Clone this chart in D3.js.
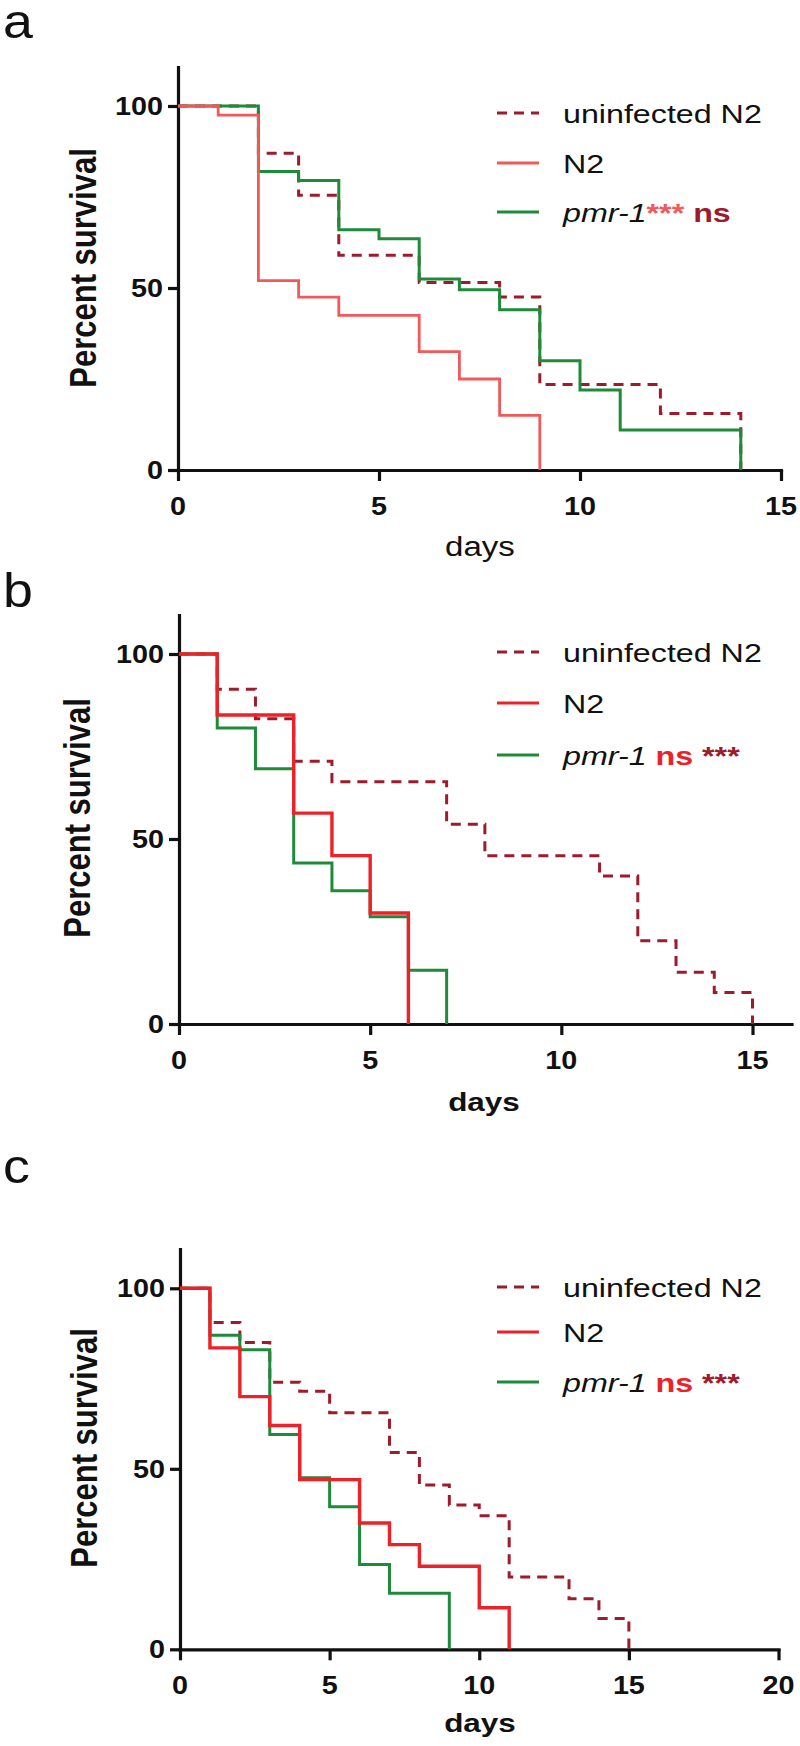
<!DOCTYPE html>
<html><head><meta charset="utf-8">
<script src="https://cdn.jsdelivr.net/npm/d3@7"></script>
<style>body{margin:0;background:#fff}svg{display:block}</style></head>
<body><svg id="chart" width="800" height="1746"></svg>
<script>
// ---------- DATA ----------
const panelLetters = ["a", "b", "c"];
const seriesNames = ["uninfected N2", "N2", "pmr-1"];
const yTicks = [0, 50, 100];
const xTicksA = [0, 5, 10, 15];
const xTicksB = [0, 5, 10, 15];
const xTicksC = [0, 5, 10, 15, 20];
const yLabel = "Percent survival";
const xLabel = "days";

// panel a
const aUninfectedDays = [0, 2, 3, 4, 6, 8, 9, 12, 14];
const aUninfectedSurv = [100, 87, 75.5, 59, 51.5, 47.5, 23.5, 15.5, 0];
const aN2Days = [0, 1, 2, 3, 4, 6, 7, 8, 9];
const aN2Surv = [100, 97.5, 52, 47.5, 42.5, 32.5, 25, 15, 0];
const aPmr1Days = [0, 2, 3, 4, 5, 6, 7, 8, 9, 10, 11, 14];
const aPmr1Surv = [100, 82, 79.5, 66, 63.5, 52.5, 49.5, 44, 30, 22, 11, 0];

// panel b
const bUninfectedDays = [0, 1, 2, 3, 4, 7, 8, 11, 12, 13, 14, 15];
const bUninfectedSurv = [100, 90.5, 82.5, 71, 65.5, 54, 45.5, 40, 22.5, 14, 8.5, 0];
const bN2Days = [0, 1, 3, 4, 5, 6];
const bN2Surv = [100, 83.5, 57, 45.5, 30, 0];
const bPmr1Days = [0, 1, 2, 3, 4, 5, 6, 7];
const bPmr1Surv = [100, 80, 69, 43.5, 36, 29, 14.5, 0];

// panel c
const cUninfectedDays = [0, 1, 2, 3, 4, 5, 7, 8, 9, 10, 11, 13, 14, 15];
const cUninfectedSurv = [100, 90.5, 85, 74, 71.5, 65.5, 54.5, 45.5, 40, 37, 20, 14, 8.5, 0];
const cN2Days = [0, 1, 2, 3, 4, 6, 7, 8, 10, 11];
const cN2Surv = [100, 83.5, 70, 62, 47, 35, 29, 23, 11.5, 0];
const cPmr1Days = [0, 1, 2, 3, 4, 5, 6, 7, 9];
const cPmr1Surv = [100, 87, 83, 59.5, 47.5, 39.5, 23.5, 15.5, 0];

// ---------- STYLE / LAYOUT ----------
const FONT = "'Liberation Sans', Arial, Helvetica, sans-serif";
const DARKRED = "#9e1b2b";
const GREEN = "#1e8b3b";
const AXIS = "#111";

const panels = [
  { letter: panelLetters[0], letterY: 38,
    x0: 178, xEndVal: 15, xEndPx: 781, xTicks: xTicksA,
    yAxisTop: 67, y0: 470, y100: 106,
    yLabelX: 96, yLabelY: 268,
    xLabelX: 480, xLabelY: 556, xLabelBold: false,
    legendRows: [113, 163, 212],
    red: "#f15a5b", redW: 2.8,
    series: [[aUninfectedDays, aUninfectedSurv], [aN2Days, aN2Surv], [aPmr1Days, aPmr1Surv]],
    sig: "a" },
  { letter: panelLetters[1], letterY: 607,
    x0: 179, xEndVal: 16.02, xEndPx: 791.5, xTicks: xTicksB, xScaleEnd: [15, 752.7],
    yAxisTop: 615, y0: 1024, y100: 654,
    yLabelX: 90, yLabelY: 818,
    xLabelX: 484, xLabelY: 1111, xLabelBold: true,
    legendRows: [652, 703, 755],
    red: "#ec2228", redW: 3.4,
    series: [[bUninfectedDays, bUninfectedSurv], [bN2Days, bN2Surv], [bPmr1Days, bPmr1Surv]],
    sig: "b" },
  { letter: panelLetters[2], letterY: 1183,
    x0: 180, xEndVal: 20, xEndPx: 778.5, xTicks: xTicksC,
    yAxisTop: 1249, y0: 1649.3, y100: 1288.3,
    yLabelX: 97, yLabelY: 1448,
    xLabelX: 480, xLabelY: 1732, xLabelBold: true,
    legendRows: [1287, 1332, 1382],
    red: "#ec2228", redW: 3.4,
    series: [[cUninfectedDays, cUninfectedSurv], [cN2Days, cN2Surv], [cPmr1Days, cPmr1Surv]],
    sig: "b" }
];

const svg = d3.select("#chart");
svg.append("rect").attr("width", 800).attr("height", 1746).attr("fill", "#fff");

function stext(g, x, y, str, o = {}) {
  return g.append("text")
    .attr("transform", `translate(${x},${y}) scale(${o.sx || 1.22},1)` + (o.rot ? ` rotate(${o.rot})` : ""))
    .attr("text-anchor", o.anchor || "start")
    .attr("font-family", FONT)
    .attr("font-size", o.size || 26)
    .attr("font-weight", o.weight || "normal")
    .attr("font-style", o.style || "normal")
    .attr("fill", o.fill || "#111")
    .text(str);
}

panels.forEach(p => {
  const g = svg.append("g");
  const x = d3.scaleLinear().domain([0, p.xEndVal]).range([p.x0, p.xEndPx]);
  const yTopVal = 100 * (p.y0 - p.yAxisTop) / (p.y0 - p.y100);
  const y = d3.scaleLinear().domain([0, yTopVal]).range([p.y0, p.yAxisTop]);

  // panel letter
  stext(g, 3, p.letterY, p.letter, { size: 48, sx: 1.12, fill: "#111" });

  // axes
  const yAxis = d3.axisLeft(y).tickValues(yTicks).tickSize(10).tickSizeOuter(0).tickFormat("");
  const xAxis = d3.axisBottom(x).tickValues(p.xTicks).tickSize(11).tickSizeOuter(0).tickFormat("");
  const ya = g.append("g").attr("transform", `translate(${p.x0},0)`).call(yAxis);
  const xa = g.append("g").attr("transform", `translate(0,${p.y0})`).call(xAxis);
  [ya, xa].forEach(a => {
    a.select(".domain").attr("stroke", AXIS).attr("stroke-width", 3.2).attr("stroke-linecap", "square");
    a.selectAll(".tick line").attr("stroke", AXIS).attr("stroke-width", 3.2);
  });

  // tick labels
  yTicks.forEach(v => stext(g, p.x0 - 15, y(v) + 9, String(v), { anchor: "end", size: 25, weight: "bold", sx: 1.15 }));
  p.xTicks.forEach(v => stext(g, x(v), p.y0 + 45, String(v), { anchor: "middle", size: 25, weight: "bold", sx: 1.15 }));

  // axis titles
  stext(g, p.yLabelX, p.yLabelY, yLabel, { anchor: "middle", size: 31, weight: "bold", sx: 1.2, rot: -90 });
  stext(g, p.xLabelX, p.xLabelY, xLabel, { anchor: "middle", size: p.xLabelBold ? 26 : 28,
    weight: p.xLabelBold ? "bold" : "normal", sx: p.xLabelBold ? 1.21 : 1.18 });

  // survival curves
  const line = d3.line().curve(d3.curveStepAfter).x(d => x(d[0])).y(d => y(d[1]));
  const styles = [
    { stroke: DARKRED, w: 3, dash: "10,7" },
    { stroke: p.red, w: p.redW, dash: null },
    { stroke: GREEN, w: 3, dash: null }
  ];
  const order = [0, 2, 1];
  order.forEach(i => {
    const [days, surv] = p.series[i];
    const pts = days.map((d, k) => [d, surv[k]]);
    g.append("path").datum(pts)
      .attr("d", line)
      .attr("fill", "none")
      .attr("stroke", styles[i].stroke)
      .attr("stroke-width", styles[i].w)
      .attr("stroke-dasharray", styles[i].dash)
      .attr("stroke-linejoin", "miter");
  });

  // legend
  const lx0 = 497, lx1 = 539, tx = 563;
  p.legendRows.forEach((ry, i) => {
    g.append("line").attr("x1", lx0).attr("x2", lx1).attr("y1", ry).attr("y2", ry)
      .attr("stroke", styles[i].stroke).attr("stroke-width", 3.2)
      .attr("stroke-dasharray", styles[i].dash);
    if (i < 2) {
      stext(g, tx, ry + 10, seriesNames[i], { size: 26, sx: 1.24 });
    } else {
      const t = stext(g, tx, ry + 10, "", { size: 26, sx: 1.24 });
      t.append("tspan").attr("font-style", "italic").text(seriesNames[2]);
      if (p.sig === "a") {
        t.append("tspan").attr("font-weight", "bold").attr("fill", "#f15a5b").text("***");
        t.append("tspan").text(" ");
        t.append("tspan").attr("font-weight", "bold").attr("fill", DARKRED).text("ns");
      } else {
        t.append("tspan").text(" ");
        t.append("tspan").attr("font-weight", "bold").attr("fill", "#ec2228").text("ns");
        t.append("tspan").text(" ");
        t.append("tspan").attr("font-weight", "bold").attr("fill", DARKRED).text("***");
      }
    }
  });
});
</script>
</body></html>
